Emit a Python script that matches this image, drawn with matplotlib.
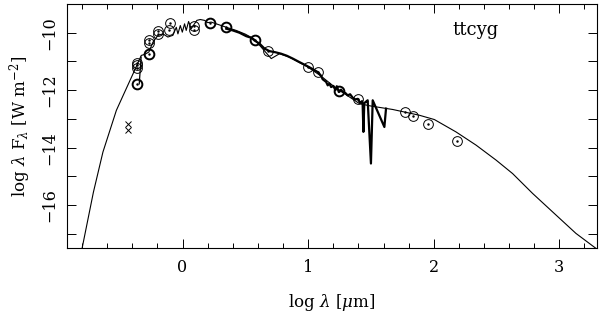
import matplotlib
matplotlib.use('Agg')
import matplotlib.pyplot as plt
from matplotlib.ticker import MultipleLocator

# model SED (thin line)
model_x = [-0.80, -0.71, -0.634, -0.527, -0.475, -0.382, -0.329, -0.30, -0.268, -0.236,
           -0.196, -0.156, -0.117, -0.077, -0.05, -0.037, -0.018, -0.002, 0.016, 0.029,
           0.048, 0.069, 0.095, 0.114, 0.141, 0.175, 0.201, 0.228, 0.268, 0.308,
           0.348, 0.427, 0.50, 0.57, 0.626, 0.706, 0.772, 0.85, 1.0, 1.1,
           1.2, 1.3, 1.41, 1.5, 1.6, 1.673, 1.726, 1.885, 2.005, 2.177,
           2.337, 2.496, 2.628, 2.787, 2.973, 3.132, 3.291]
model_y = [-17.5, -15.55, -14.15, -12.7, -12.2, -11.31, -10.79, -10.75, -10.67, -10.33,
           -10.09, -10.04, -10.15, -10.09, -9.81, -10.04, -9.75, -9.98, -9.69, -9.92,
           -9.61, -9.86, -9.69, -9.57, -9.54, -9.57, -9.65, -9.63, -9.69, -9.75,
           -9.81, -9.92, -10.05, -10.22, -10.5, -10.9, -10.73, -10.85, -11.2, -11.5,
           -11.85, -12.15, -12.47, -12.55, -12.62, -12.67, -12.72, -12.87, -13.02, -13.45,
           -13.91, -14.43, -14.90, -15.59, -16.34, -16.98, -17.5]

# observed spectrum (thick line)
spec_x = [0.348, 0.40, 0.453, 0.507, 0.55, 0.573, 0.613, 0.652, 0.692, 0.74,
          0.785, 0.83, 0.878, 0.93, 0.984, 1.03, 1.077, 1.10, 1.116, 1.143,
          1.156, 1.169, 1.183, 1.201, 1.217, 1.228, 1.244, 1.262, 1.275, 1.297,
          1.315, 1.334, 1.355, 1.376, 1.395, 1.414, 1.429, 1.434, 1.44, 1.447,
          1.46, 1.474, 1.50, 1.514, 1.607, 1.62]
spec_y = [-9.86, -9.92, -10.0, -10.12, -10.18, -10.27, -10.38, -10.55, -10.64, -10.68,
          -10.73, -10.8, -10.9, -11.02, -11.14, -11.25, -11.37, -11.48, -11.62, -11.71,
          -11.83, -11.77, -11.89, -11.85, -12.0, -11.86, -12.06, -11.98, -12.06, -12.1,
          -12.18, -12.14, -12.26, -12.32, -12.3, -12.44, -12.38, -12.5, -13.45, -12.45,
          -12.4, -12.35, -14.55, -12.35, -13.28, -12.64]

# short photometric segment
seg_x = [-0.345, -0.33]
seg_y = [-11.78, -10.85]

# photometry (open circles)
phot_x = [-0.36, -0.36, -0.36, -0.268, -0.268, -0.196, -0.196, -0.103, -0.11,
          0.088, 0.088, 0.679, 0.997, 1.077, 1.395, 1.774, 1.838, 1.954, 2.182]
phot_y = [-11.11, -11.07, -11.24, -10.27, -10.35, -9.95, -10.03, -9.65, -9.92,
          -9.77, -9.92, -10.64, -11.19, -11.37, -12.32, -12.76, -12.88, -13.18, -13.77]
bold_x = [-0.36, -0.268, 0.215, 0.342, 0.573, 1.243]
bold_y = [-11.78, -10.73, -9.65, -9.80, -10.27, -12.03]

# crosses
cross_x = [-0.435, -0.435]
cross_y = [-13.18, -13.37]

plt.rcParams['font.family'] = 'DejaVu Serif'
plt.rcParams['mathtext.fontset'] = 'dejavuserif'

fig = plt.figure(figsize=(6, 3.19), dpi=100)
ax = fig.add_axes([0.1117, 0.2216, 0.8833, 0.7659])

ax.plot(model_x, model_y, color='black', lw=0.8)
ax.plot(spec_x, spec_y, color='black', lw=1.6)
ax.plot(seg_x, seg_y, color='black', lw=0.9)
ax.plot(phot_x, phot_y, 'o', ms=7, mfc='none', mec='black', mew=0.7)
ax.plot(bold_x, bold_y, 'o', ms=7, mfc='none', mec='black', mew=1.4)
ax.plot(phot_x + bold_x, phot_y + bold_y, '.', ms=1.5, color='black')
ax.plot(cross_x, cross_y, 'x', ms=5, color='black', mew=0.7)

ax.text(2.33, -9.89, 'ttcyg', fontsize=13, ha='center', va='center')

ax.set_xlim(-0.92, 3.3)
ax.set_ylim(-17.5, -9.0)
ax.xaxis.set_major_locator(MultipleLocator(1))
ax.xaxis.set_minor_locator(MultipleLocator(0.2))
ax.yaxis.set_major_locator(MultipleLocator(2))
ax.yaxis.set_minor_locator(MultipleLocator(1))

ax.tick_params(which='both', direction='in', top=True, right=True, width=0.7, labelsize=11.5)
ax.tick_params(axis='x', which='major', length=6.5, pad=8)
ax.tick_params(axis='x', which='minor', length=3.6)
ax.tick_params(axis='y', which='both', length=6.5)
ax.tick_params(axis='y', which='major', pad=6)
for lab in ax.get_yticklabels():
    lab.set_rotation(90)
    lab.set_va('center')

for sp in ax.spines.values():
    sp.set_linewidth(0.8)

ax.set_xlabel(r'log $\lambda$ [$\mu$m]', fontsize=12, labelpad=11)
ax.set_ylabel(r'log $\lambda$ F$_\lambda$ [W m$^{-2}$]', fontsize=12, labelpad=6)

fig.savefig('out.png', dpi=100)
